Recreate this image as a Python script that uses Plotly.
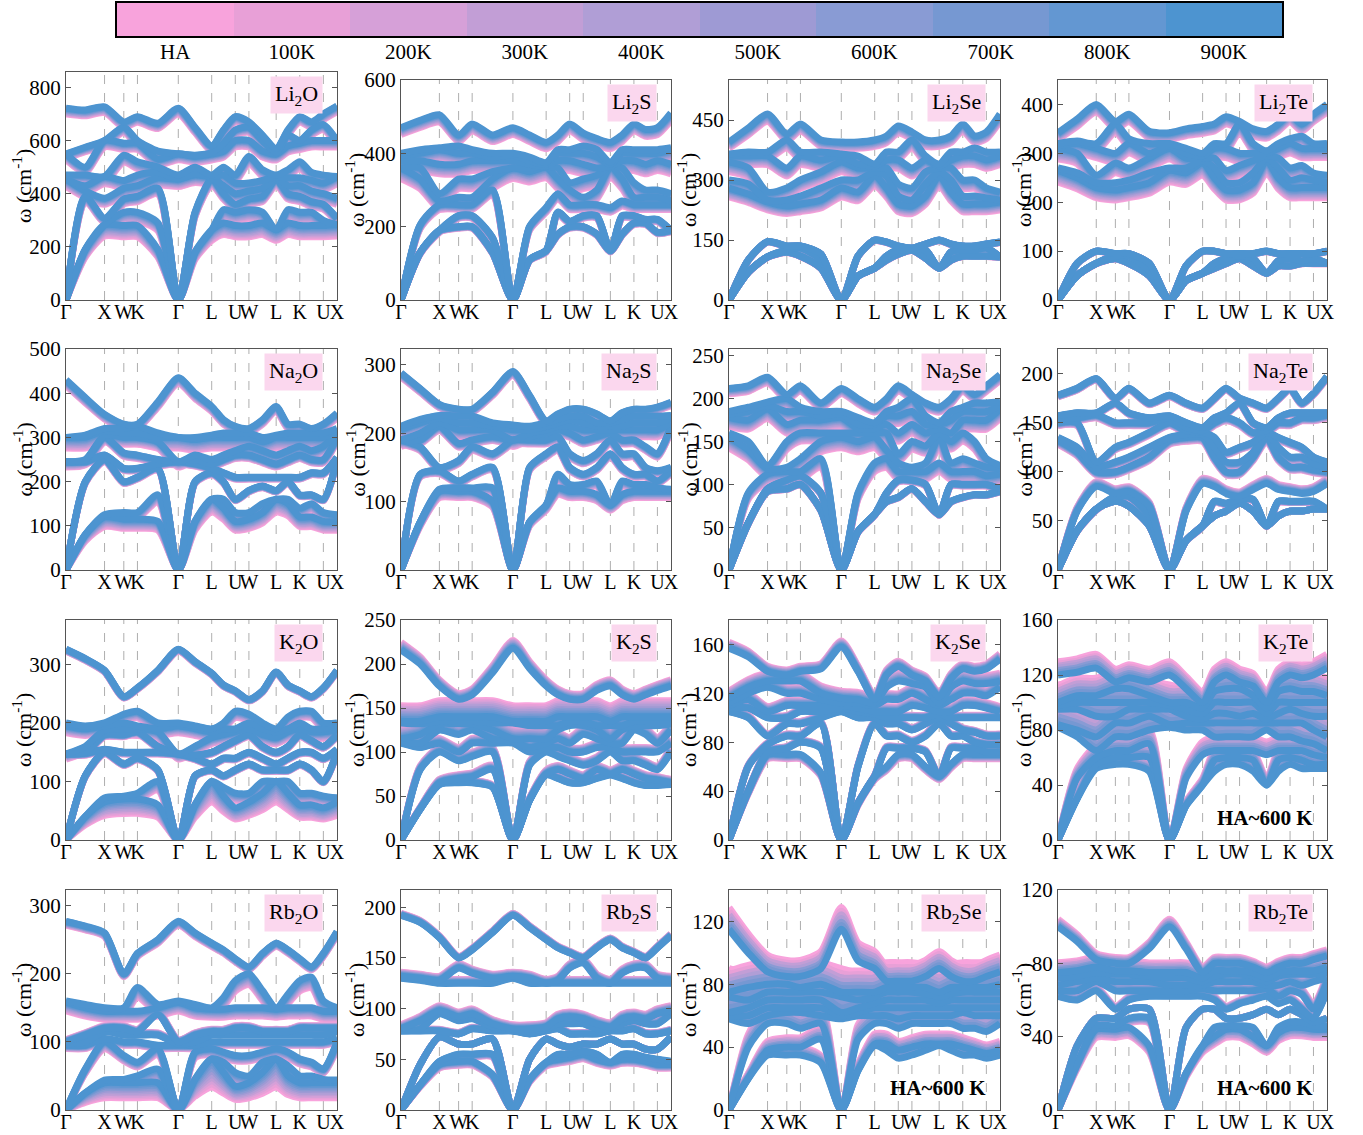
import plotly.graph_objects as go

W, H = 1363, 1135
FONT = "Liberation Serif"

# ---- temperature legend -------------------------------------------------
TEMPERATURE_LABELS = ["HA", "100K", "200K", "300K", "400K", "500K", "600K", "700K", "800K", "900K"]
TEMPERATURE_COLORS = ["#F8A3DC", "#E8A0D7", "#D6A0D8", "#C29ED6", "#B09ED6",
                      "#9E9AD4", "#899BD4", "#7698D2", "#6397D2", "#4D94D0"]
# fraction of the harmonic (HA) offset still present at each temperature
SHIFT_FRACTION_900 = [1.0, 0.89, 0.78, 0.67, 0.56, 0.44, 0.33, 0.22, 0.11, 0.0]
SHIFT_FRACTION_600 = [1.0, 0.83, 0.67, 0.5, 0.33, 0.17, 0.0]
COLOR_INDEX_600 = [0, 1, 3, 4, 6, 7, 9]

# ---- k-path Γ-X-W-K-Γ-L-U-W-L-K-U-X -------------------------------------
KPOINT_LABELS = ["Γ", "X", "W", "K", "Γ", "L", "U", "W", "L", "K", "U", "X"]
SEGMENT_LENGTHS = [1.0, 0.5, 0.3536, 1.0607, 0.8660, 0.6124, 0.3536, 0.7071, 0.6124, 0.6124, 0.3536]
SEGMENT_MIDPOINT = [True, False, False, True, True, True, False, True, True, True, False]

# ---- frequencies (cm^-1) at sampled k-points, 9 branches per row ---------
# rows: Γ, ΓX, X, W, K, KΓ, Γ, ΓL, L, LU, U, W, WL, L, LK, K, KU, U, X
LI2O_FREQ = [
    [0, 0, 0, 455, 455, 470, 550, 550, 722], [190, 190, 390, 410, 430, 470, 500, 575, 715],
    [283, 283, 308, 383, 465, 465, 600, 600, 727], [280, 330, 380, 420, 450, 545, 590, 650, 670],
    [280, 330, 390, 430, 470, 520, 590, 600, 690], [190, 290, 420, 460, 480, 500, 530, 560, 665],
    [0, 0, 0, 455, 455, 470, 550, 550, 722], [180, 180, 330, 470, 475, 500, 540, 545, 650],
    [264, 264, 455, 460, 465, 470, 549, 555, 580], [290, 340, 400, 430, 470, 500, 560, 590, 640],
    [280, 330, 360, 400, 440, 470, 600, 640, 690], [280, 340, 380, 410, 440, 540, 600, 650, 670],
    [290, 330, 390, 420, 450, 490, 560, 600, 620], [264, 264, 455, 460, 465, 470, 549, 555, 570],
    [290, 340, 400, 430, 460, 490, 580, 620, 640], [280, 330, 390, 430, 460, 520, 590, 600, 690],
    [280, 330, 370, 410, 450, 480, 600, 640, 670], [280, 300, 360, 400, 440, 470, 600, 660, 700],
    [283, 283, 308, 383, 465, 465, 600, 600, 730]]
LI2O_HA_RATIO = [-0.15, -0.1, -0.05, -0.06, -0.06, -0.05, -0.04, -0.03, -0.03]

LI2S_FREQ = [
    [0, 0, 0, 360, 360, 380, 395, 400, 470], [130, 130, 205, 330, 360, 380, 400, 410, 490],
    [190, 190, 260, 270, 290, 370, 410, 415, 505], [200, 230, 260, 280, 330, 370, 400, 420, 450],
    [200, 230, 260, 280, 330, 380, 400, 410, 480], [130, 170, 300, 330, 350, 380, 390, 400, 450],
    [0, 0, 0, 360, 360, 380, 395, 400, 470], [110, 110, 200, 350, 360, 370, 380, 390, 450],
    [135, 135, 252, 362, 365, 365, 370, 375, 430], [180, 240, 290, 330, 360, 380, 400, 410, 450],
    [200, 215, 260, 300, 320, 380, 400, 410, 480], [200, 230, 260, 280, 330, 370, 400, 420, 455],
    [180, 230, 260, 300, 340, 360, 390, 410, 440], [135, 135, 252, 362, 365, 365, 370, 375, 430],
    [180, 230, 270, 330, 360, 380, 400, 410, 450], [210, 230, 260, 280, 320, 380, 400, 410, 480],
    [210, 220, 260, 280, 300, 370, 400, 410, 465], [185, 220, 260, 280, 300, 380, 400, 410, 470],
    [190, 190, 260, 270, 290, 370, 410, 415, 510]]
LI2S_HA_RATIO = [-0.02, -0.03, -0.05, -0.08, -0.08, -0.07, -0.06, -0.05, -0.04]

LI2SE_FREQ = [
    [0, 0, 0, 280, 300, 345, 360, 365, 395], [70, 70, 100, 265, 290, 330, 360, 370, 430],
    [108, 108, 146, 245, 250, 270, 360, 370, 465], [120, 125, 135, 235, 250, 280, 330, 400, 415],
    [110, 130, 135, 240, 260, 300, 360, 370, 440], [80, 100, 115, 250, 280, 320, 350, 370, 400],
    [0, 0, 0, 280, 300, 345, 360, 365, 395], [60, 60, 110, 270, 300, 330, 340, 360, 395],
    [80, 80, 150, 310, 320, 330, 335, 340, 400], [100, 110, 145, 280, 310, 330, 350, 370, 410],
    [115, 125, 135, 240, 260, 290, 350, 370, 435], [125, 125, 130, 235, 250, 280, 330, 400, 420],
    [105, 125, 140, 260, 290, 320, 350, 360, 400], [80, 80, 150, 310, 320, 330, 335, 340, 400],
    [100, 120, 140, 270, 300, 330, 350, 370, 410], [110, 125, 135, 240, 260, 300, 360, 370, 440],
    [110, 125, 135, 240, 260, 300, 360, 380, 410], [110, 130, 140, 240, 255, 280, 350, 370, 420],
    [108, 108, 145, 245, 250, 270, 360, 370, 465]]
LI2SE_HA_RATIO = [-0.01, -0.01, -0.01, -0.08, -0.08, -0.07, -0.06, -0.05, -0.04]

LI2TE_FREQ = [
    [0, 0, 0, 265, 270, 310, 315, 320, 342], [50, 50, 75, 250, 260, 300, 320, 325, 370],
    [75, 75, 100, 230, 240, 255, 310, 320, 400], [85, 90, 95, 225, 240, 280, 300, 360, 365],
    [75, 90, 95, 230, 245, 270, 320, 330, 380], [50, 60, 75, 240, 260, 290, 300, 320, 345],
    [0, 0, 0, 265, 270, 310, 315, 320, 342], [40, 40, 70, 260, 270, 290, 300, 310, 350],
    [55, 55, 100, 280, 285, 290, 295, 300, 355], [65, 75, 100, 250, 270, 290, 310, 320, 360],
    [75, 85, 95, 225, 240, 265, 310, 320, 375], [85, 90, 95, 225, 240, 275, 300, 360, 365],
    [70, 85, 95, 240, 260, 285, 300, 320, 350], [55, 55, 100, 285, 290, 295, 300, 305, 345],
    [70, 80, 95, 250, 270, 290, 310, 320, 360], [70, 85, 95, 230, 245, 270, 320, 330, 380],
    [75, 80, 95, 230, 250, 275, 310, 335, 360], [75, 85, 95, 230, 245, 260, 310, 320, 380],
    [75, 75, 100, 230, 240, 255, 310, 320, 400]]
LI2TE_HA_RATIO = [-0.01, -0.01, -0.01, -0.09, -0.08, -0.07, -0.06, -0.05, -0.04]

NA2O_FREQ = [
    [0, 0, 0, 245, 245, 245, 300, 300, 430], [80, 80, 200, 245, 248, 250, 300, 305, 390],
    [120, 125, 250, 260, 300, 305, 315, 320, 352], [115, 130, 200, 230, 265, 300, 310, 320, 330],
    [115, 130, 210, 230, 260, 300, 310, 325, 330], [110, 170, 230, 240, 250, 290, 300, 310, 380],
    [0, 0, 0, 245, 245, 245, 300, 300, 435], [110, 110, 200, 240, 250, 260, 295, 300, 400],
    [160, 160, 220, 230, 240, 250, 300, 305, 370], [140, 160, 200, 220, 250, 260, 300, 310, 340],
    [110, 130, 160, 210, 260, 270, 300, 310, 325], [115, 130, 180, 210, 260, 280, 300, 310, 320],
    [130, 150, 190, 210, 250, 270, 290, 300, 340], [160, 160, 180, 210, 240, 260, 300, 305, 370],
    [150, 160, 200, 210, 250, 270, 300, 310, 330], [120, 140, 170, 210, 260, 280, 300, 310, 330],
    [120, 150, 170, 220, 250, 270, 300, 310, 320], [110, 130, 160, 220, 250, 280, 300, 310, 330],
    [110, 125, 250, 255, 300, 310, 315, 320, 355]]
NA2O_HA_RATIO = [-0.18, -0.1, -0.02, -0.02, -0.03, -0.05, -0.08, -0.07, -0.03]

NA2S_FREQ = [
    [0, 0, 0, 190, 190, 190, 205, 210, 288], [70, 70, 140, 180, 190, 200, 215, 220, 265],
    [115, 118, 145, 150, 210, 215, 222, 226, 242], [115, 120, 130, 160, 185, 205, 215, 225, 235],
    [115, 120, 140, 180, 190, 205, 215, 225, 235], [100, 120, 150, 170, 195, 205, 210, 215, 260],
    [0, 0, 0, 190, 190, 190, 205, 212, 290], [70, 70, 150, 190, 195, 200, 205, 210, 255],
    [95, 95, 170, 190, 200, 205, 210, 215, 218], [120, 140, 180, 195, 205, 210, 215, 220, 228],
    [115, 125, 150, 170, 200, 210, 220, 225, 235], [115, 125, 140, 160, 190, 205, 215, 225, 235],
    [110, 130, 150, 170, 195, 205, 210, 215, 228], [95, 95, 170, 190, 200, 205, 210, 215, 218],
    [110, 130, 150, 170, 190, 205, 210, 220, 230], [115, 125, 140, 170, 190, 205, 215, 225, 235],
    [115, 125, 140, 150, 180, 205, 215, 225, 235], [115, 120, 130, 145, 170, 205, 215, 225, 238],
    [115, 118, 145, 150, 210, 215, 222, 226, 245]]
NA2S_HA_RATIO = [-0.08, -0.06, -0.03, -0.03, -0.03, -0.05, -0.05, -0.04, -0.02]

NA2SE_FREQ = [
    [0, 0, 0, 155, 160, 178, 182, 185, 212], [55, 55, 90, 140, 150, 175, 185, 190, 215],
    [92, 95, 112, 118, 122, 188, 192, 196, 225], [95, 105, 115, 120, 150, 170, 185, 200, 205],
    [100, 110, 115, 130, 160, 175, 185, 190, 215], [70, 90, 130, 150, 160, 175, 180, 185, 195],
    [0, 0, 0, 155, 160, 178, 182, 185, 212], [45, 45, 90, 150, 160, 165, 170, 178, 200],
    [65, 65, 125, 155, 160, 165, 170, 172, 190], [80, 90, 130, 140, 160, 170, 180, 185, 200],
    [85, 105, 115, 125, 135, 160, 180, 190, 215], [95, 105, 115, 120, 150, 170, 185, 200, 205],
    [80, 100, 115, 125, 145, 160, 170, 180, 195], [65, 65, 125, 155, 160, 165, 170, 172, 190],
    [80, 100, 115, 125, 150, 160, 175, 185, 200], [85, 100, 115, 130, 160, 175, 185, 190, 215],
    [88, 100, 115, 125, 150, 175, 185, 195, 205], [88, 100, 110, 120, 130, 175, 185, 195, 215],
    [92, 95, 112, 118, 122, 188, 192, 196, 228]]
NA2SE_HA_RATIO = [-0.01, -0.02, -0.08, -0.08, -0.06, -0.06, -0.05, -0.05, -0.03]

NA2TE_FREQ = [
    [0, 0, 0, 132, 135, 150, 155, 157, 178], [40, 40, 60, 120, 125, 150, 155, 160, 185],
    [62, 62, 85, 100, 105, 110, 158, 160, 195], [70, 75, 78, 100, 110, 125, 150, 170, 175],
    [65, 75, 80, 105, 115, 130, 150, 160, 185], [45, 55, 65, 115, 125, 140, 150, 155, 170],
    [0, 0, 0, 132, 135, 150, 155, 157, 178], [30, 30, 60, 135, 138, 142, 145, 150, 170],
    [45, 45, 88, 135, 138, 140, 142, 145, 165], [55, 70, 85, 115, 125, 135, 150, 155, 175],
    [60, 68, 78, 100, 110, 120, 155, 160, 185], [68, 72, 75, 100, 110, 125, 150, 170, 175],
    [60, 72, 82, 115, 120, 130, 140, 150, 170], [45, 45, 88, 135, 138, 140, 142, 145, 165],
    [55, 70, 82, 115, 125, 135, 150, 155, 175], [60, 70, 80, 105, 115, 130, 150, 160, 185],
    [60, 70, 78, 105, 115, 125, 155, 160, 170], [62, 70, 80, 102, 108, 115, 155, 160, 180],
    [62, 62, 88, 100, 105, 110, 158, 160, 197]]
NA2TE_HA_RATIO = [0.0, -0.02, 0.06, -0.03, -0.03, -0.02, -0.02, -0.01, -0.01]

K2O_FREQ = [
    [0, 0, 0, 147, 147, 147, 195, 200, 326], [40, 40, 110, 148, 150, 160, 190, 195, 310],
    [65, 72, 150, 155, 180, 188, 195, 200, 290], [70, 75, 130, 150, 180, 190, 200, 215, 245],
    [70, 80, 140, 150, 185, 190, 195, 220, 260], [60, 100, 120, 150, 160, 185, 190, 200, 290],
    [0, 0, 0, 147, 147, 147, 195, 200, 326], [60, 60, 110, 140, 145, 160, 190, 195, 305],
    [100, 100, 120, 130, 150, 175, 185, 190, 285], [75, 90, 110, 140, 160, 180, 190, 200, 265],
    [55, 80, 120, 140, 170, 185, 190, 220, 255], [65, 80, 130, 150, 180, 190, 200, 215, 240],
    [80, 100, 120, 140, 160, 180, 190, 200, 255], [100, 100, 120, 130, 150, 175, 185, 190, 287],
    [80, 100, 120, 140, 160, 185, 190, 210, 265], [60, 80, 130, 150, 180, 190, 200, 220, 255],
    [60, 80, 120, 150, 170, 185, 190, 220, 245], [55, 75, 100, 140, 160, 185, 190, 200, 260],
    [65, 72, 150, 155, 180, 188, 195, 200, 290]]
K2O_HA_RATIO = [-0.35, -0.15, -0.02, -0.02, -0.02, -0.06, -0.06, -0.05, -0.01]

K2S_FREQ = [
    [0, 0, 0, 110, 112, 115, 133, 135, 216], [35, 35, 80, 105, 110, 120, 132, 135, 200],
    [63, 65, 100, 110, 125, 132, 135, 140, 175], [65, 70, 90, 100, 120, 132, 135, 140, 160],
    [65, 72, 95, 110, 125, 132, 135, 140, 165], [60, 80, 100, 110, 115, 125, 133, 140, 190],
    [0, 0, 0, 110, 112, 115, 133, 135, 218], [45, 45, 85, 100, 105, 115, 130, 135, 195],
    [74, 75, 100, 105, 110, 115, 130, 135, 175], [70, 80, 95, 105, 115, 125, 130, 140, 165],
    [65, 75, 90, 100, 110, 130, 135, 140, 160], [65, 70, 85, 100, 120, 130, 135, 140, 160],
    [70, 80, 90, 105, 115, 125, 130, 140, 170], [74, 75, 100, 105, 110, 115, 130, 135, 175],
    [70, 80, 90, 100, 110, 125, 130, 140, 165], [65, 75, 90, 100, 125, 130, 135, 140, 160],
    [62, 70, 85, 100, 120, 130, 135, 140, 165], [62, 68, 80, 100, 110, 130, 135, 140, 170],
    [63, 65, 100, 110, 125, 132, 135, 140, 175]]
K2S_HA_RATIO = [0.04, 0.06, 0.05, 0.05, 0.06, 0.1, 0.13, 0.13, 0.04]

K2SE_FREQ = [
    [0, 0, 0, 105, 108, 110, 112, 116, 157], [40, 40, 60, 100, 108, 115, 120, 125, 150],
    [70, 72, 78, 85, 100, 105, 125, 130, 138], [70, 75, 85, 95, 100, 110, 120, 130, 135],
    [70, 80, 85, 95, 105, 110, 120, 130, 138], [55, 75, 95, 100, 105, 110, 115, 120, 140],
    [0, 0, 0, 105, 108, 110, 112, 116, 158], [30, 30, 60, 100, 105, 108, 112, 115, 138],
    [52, 52, 95, 100, 103, 105, 110, 112, 115], [60, 75, 85, 95, 100, 105, 115, 125, 135],
    [70, 75, 85, 95, 100, 105, 115, 130, 142], [70, 75, 80, 90, 100, 110, 120, 128, 135],
    [60, 72, 85, 95, 100, 108, 115, 125, 130], [52, 52, 95, 100, 103, 105, 110, 112, 117],
    [62, 75, 85, 95, 100, 105, 115, 125, 132], [70, 75, 85, 90, 100, 110, 120, 130, 140],
    [70, 75, 80, 88, 100, 110, 120, 128, 138], [70, 72, 78, 85, 100, 108, 118, 128, 140],
    [70, 72, 78, 85, 100, 105, 125, 130, 148]]
K2SE_HA_RATIO = [-0.05, 0.02, 0.02, 0.02, 0.02, 0.04, 0.04, 0.05, 0.03]

K2TE_FREQ = [
    [0, 0, 0, 82, 84, 95, 98, 100, 120], [30, 30, 45, 75, 80, 95, 100, 105, 122],
    [52, 55, 60, 65, 75, 90, 100, 105, 125], [55, 60, 65, 75, 85, 90, 100, 110, 115],
    [55, 60, 65, 75, 85, 95, 100, 110, 118], [50, 60, 70, 80, 90, 95, 100, 105, 115],
    [0, 0, 0, 82, 84, 95, 98, 100, 120], [25, 25, 45, 80, 85, 90, 95, 100, 110],
    [40, 40, 62, 80, 85, 88, 92, 96, 100], [50, 58, 65, 75, 85, 92, 100, 108, 115],
    [55, 60, 65, 75, 85, 92, 100, 110, 120], [55, 60, 65, 75, 85, 90, 100, 110, 115],
    [50, 58, 65, 75, 85, 92, 100, 105, 112], [40, 40, 62, 80, 85, 88, 92, 96, 100],
    [50, 58, 65, 75, 85, 92, 100, 108, 115], [55, 60, 65, 75, 85, 95, 100, 110, 120],
    [52, 58, 65, 72, 85, 92, 100, 108, 118], [52, 55, 62, 70, 80, 90, 100, 108, 120],
    [52, 55, 60, 65, 75, 90, 100, 105, 125]]
K2TE_HA_RATIO = [0.1, 0.12, 0.15, 0.2, 0.2, 0.18, 0.15, 0.12, 0.08]

RB2O_FREQ = [
    [0, 0, 0, 95, 97, 100, 158, 160, 277], [25, 25, 60, 95, 100, 110, 150, 155, 270],
    [40, 44, 100, 105, 115, 120, 145, 150, 260], [40, 45, 80, 100, 110, 120, 145, 150, 200],
    [40, 50, 70, 100, 110, 115, 145, 180, 230], [40, 60, 90, 95, 110, 140, 150, 155, 250],
    [0, 0, 0, 95, 97, 100, 158, 160, 277], [45, 45, 85, 95, 100, 110, 150, 155, 260],
    [75, 75, 90, 100, 110, 115, 148, 150, 245], [55, 70, 85, 100, 110, 115, 148, 165, 235],
    [35, 55, 80, 100, 110, 120, 150, 190, 222], [40, 50, 80, 100, 110, 120, 150, 200, 210],
    [55, 70, 85, 100, 110, 115, 150, 175, 230], [75, 75, 90, 100, 110, 115, 148, 150, 245],
    [50, 65, 85, 100, 110, 115, 150, 170, 235], [40, 50, 75, 100, 110, 120, 150, 190, 222],
    [40, 50, 70, 100, 110, 120, 150, 195, 210], [40, 45, 60, 100, 110, 120, 145, 160, 230],
    [40, 44, 100, 105, 115, 120, 145, 150, 262]]
RB2O_HA_RATIO = [-0.55, -0.3, -0.1, -0.05, 0.03, 0.03, -0.08, -0.08, -0.02]

RB2S_FREQ = [
    [0, 0, 0, 78, 78, 80, 130, 132, 192], [25, 25, 45, 78, 80, 88, 128, 130, 185],
    [45, 48, 72, 78, 95, 98, 125, 128, 170], [48, 55, 65, 75, 88, 92, 125, 140, 150],
    [48, 55, 65, 80, 90, 95, 125, 135, 158], [35, 55, 70, 78, 82, 85, 125, 130, 175],
    [0, 0, 0, 78, 78, 80, 130, 132, 192], [30, 30, 50, 75, 78, 80, 125, 130, 180],
    [47, 47, 70, 78, 80, 82, 125, 125, 168], [50, 55, 65, 80, 85, 90, 125, 128, 160],
    [52, 55, 62, 75, 85, 92, 125, 140, 155], [55, 58, 65, 75, 85, 90, 125, 145, 150],
    [50, 55, 65, 75, 80, 85, 125, 130, 160], [47, 47, 70, 78, 80, 82, 125, 125, 168],
    [50, 55, 65, 78, 85, 90, 125, 135, 160], [50, 55, 65, 80, 88, 92, 125, 140, 155],
    [48, 52, 60, 75, 85, 90, 125, 140, 150], [45, 50, 60, 75, 85, 95, 125, 130, 160],
    [45, 48, 72, 78, 95, 98, 125, 128, 172]]
RB2S_HA_RATIO = [-0.08, -0.05, 0.0, 0.02, 0.04, 0.05, 0.03, 0.03, 0.01]

RB2SE_FREQ = [
    [0, 0, 0, 58, 60, 62, 72, 75, 115], [20, 20, 40, 55, 60, 65, 70, 78, 100],
    [35, 38, 55, 60, 65, 70, 75, 80, 88], [35, 40, 55, 62, 65, 70, 75, 80, 85],
    [35, 40, 52, 62, 65, 70, 75, 78, 85], [30, 45, 55, 60, 65, 70, 75, 80, 90],
    [0, 0, 0, 58, 60, 62, 72, 75, 115], [25, 25, 45, 60, 62, 65, 70, 75, 95],
    [41, 42, 55, 60, 65, 68, 72, 75, 90], [38, 42, 55, 60, 65, 70, 75, 78, 82],
    [33, 38, 52, 58, 65, 70, 75, 78, 82], [35, 40, 55, 60, 65, 70, 75, 78, 82],
    [38, 42, 55, 60, 65, 70, 74, 78, 85], [41, 42, 55, 60, 65, 68, 72, 75, 90],
    [38, 42, 55, 60, 65, 70, 74, 78, 85], [35, 40, 52, 62, 65, 70, 75, 78, 82],
    [35, 38, 52, 60, 65, 70, 75, 78, 82], [33, 36, 50, 60, 65, 70, 75, 78, 85],
    [35, 38, 55, 60, 65, 70, 75, 80, 88]]
RB2SE_HA_RATIO = [0.15, 0.15, 0.2, 0.25, 0.3, 0.28, 0.25, 0.18, 0.12]

RB2TE_FREQ = [
    [0, 0, 0, 62, 65, 68, 72, 75, 100], [25, 25, 35, 60, 65, 70, 73, 76, 92],
    [44, 46, 50, 65, 70, 72, 75, 78, 82], [44, 46, 50, 55, 65, 70, 74, 76, 80],
    [45, 50, 55, 60, 65, 70, 74, 76, 80], [35, 50, 55, 62, 65, 70, 73, 75, 88],
    [0, 0, 0, 62, 65, 68, 72, 75, 100], [20, 20, 45, 62, 65, 68, 72, 75, 88],
    [35, 35, 55, 62, 66, 68, 70, 72, 75], [40, 45, 55, 60, 65, 70, 73, 76, 80],
    [44, 46, 50, 55, 65, 70, 74, 76, 80], [44, 46, 50, 58, 65, 70, 74, 76, 80],
    [40, 45, 52, 60, 65, 70, 73, 75, 78], [35, 35, 55, 62, 66, 68, 70, 72, 75],
    [42, 45, 52, 58, 62, 68, 73, 75, 78], [45, 48, 55, 60, 65, 70, 74, 76, 80],
    [45, 48, 52, 55, 63, 68, 74, 76, 80], [44, 46, 48, 50, 55, 70, 74, 76, 82],
    [44, 46, 50, 65, 70, 72, 75, 78, 84]]
RB2TE_HA_RATIO = [-0.1, -0.05, 0.0, 0.03, 0.05, 0.06, 0.07, 0.07, 0.04]

PANELS = [
    dict(name="Li<sub>2</sub>O", freq=LI2O_FREQ, ratio=LI2O_HA_RATIO, yrange=[0, 858], yticks=[0, 200, 400, 600, 800], top=72),
    dict(name="Li<sub>2</sub>S", freq=LI2S_FREQ, ratio=LI2S_HA_RATIO, yrange=[0, 600], yticks=[0, 200, 400, 600]),
    dict(name="Li<sub>2</sub>Se", freq=LI2SE_FREQ, ratio=LI2SE_HA_RATIO, yrange=[0, 550], yticks=[0, 150, 300, 450]),
    dict(name="Li<sub>2</sub>Te", freq=LI2TE_FREQ, ratio=LI2TE_HA_RATIO, yrange=[0, 450], yticks=[0, 100, 200, 300, 400]),
    dict(name="Na<sub>2</sub>O", freq=NA2O_FREQ, ratio=NA2O_HA_RATIO, yrange=[0, 500], yticks=[0, 100, 200, 300, 400, 500]),
    dict(name="Na<sub>2</sub>S", freq=NA2S_FREQ, ratio=NA2S_HA_RATIO, yrange=[0, 323], yticks=[0, 100, 200, 300]),
    dict(name="Na<sub>2</sub>Se", freq=NA2SE_FREQ, ratio=NA2SE_HA_RATIO, yrange=[0, 258], yticks=[0, 50, 100, 150, 200, 250]),
    dict(name="Na<sub>2</sub>Te", freq=NA2TE_FREQ, ratio=NA2TE_HA_RATIO, yrange=[0, 225], yticks=[0, 50, 100, 150, 200]),
    dict(name="K<sub>2</sub>O", freq=K2O_FREQ, ratio=K2O_HA_RATIO, yrange=[0, 376], yticks=[0, 100, 200, 300]),
    dict(name="K<sub>2</sub>S", freq=K2S_FREQ, ratio=K2S_HA_RATIO, yrange=[0, 250], yticks=[0, 50, 100, 150, 200, 250]),
    dict(name="K<sub>2</sub>Se", freq=K2SE_FREQ, ratio=K2SE_HA_RATIO, yrange=[0, 180], yticks=[0, 40, 80, 120, 160]),
    dict(name="K<sub>2</sub>Te", freq=K2TE_FREQ, ratio=K2TE_HA_RATIO, yrange=[0, 160], yticks=[0, 40, 80, 120, 160], upto600=True),
    dict(name="Rb<sub>2</sub>O", freq=RB2O_FREQ, ratio=RB2O_HA_RATIO, yrange=[0, 323], yticks=[0, 100, 200, 300]),
    dict(name="Rb<sub>2</sub>S", freq=RB2S_FREQ, ratio=RB2S_HA_RATIO, yrange=[0, 217], yticks=[0, 50, 100, 150, 200]),
    dict(name="Rb<sub>2</sub>Se", freq=RB2SE_FREQ, ratio=RB2SE_HA_RATIO, yrange=[0, 140], yticks=[0, 40, 80, 120], upto600=True),
    dict(name="Rb<sub>2</sub>Te", freq=RB2TE_FREQ, ratio=RB2TE_HA_RATIO, yrange=[0, 120], yticks=[0, 40, 80, 120], upto600=True),
]

# ---- page geometry (pixels) ---------------------------------------------
COL_X = [(66, 337), (401, 671), (729, 1000), (1058, 1327)]
ROW_Y = [(80, 300), (349, 570), (620, 840), (890, 1110)]
YTITLE_X = [22, 355, 687, 1022]
AXIS_COLOR = "#555555"


def fx(px):
    return px / W


def fy(py):
    return 1 - py / H


# positions along the path
tick_pos = [0.0]
sample_pos = [0.0]
cur = 0.0
for length, split in zip(SEGMENT_LENGTHS, SEGMENT_MIDPOINT):
    if split:
        sample_pos.append(cur + length / 2)
    cur += length
    tick_pos.append(cur)
    sample_pos.append(cur)
path_end = cur

fig = go.Figure()
layout = {}
shapes = []
annotations = []

for i, p in enumerate(PANELS):
    n = i + 1
    suffix = "" if n == 1 else str(n)
    xa, ya = "x" + suffix, "y" + suffix
    col, row = i % 4, i // 4
    x0, x1 = COL_X[col]
    top, bottom = ROW_Y[row]
    top = p.get("top", top)

    rows_sorted = [sorted(r) for r in p["freq"]]
    bands = list(zip(*rows_sorted))
    if p.get("upto600"):
        fracs = SHIFT_FRACTION_600
        colors = [TEMPERATURE_COLORS[k] for k in COLOR_INDEX_600]
    else:
        fracs = SHIFT_FRACTION_900
        colors = TEMPERATURE_COLORS

    for frac, color in zip(fracs, colors):
        xs, ys = [], []
        for b, band in enumerate(bands):
            r = p["ratio"][b]
            xs += sample_pos + [None]
            ys += [w * (1 + r * frac) for w in band] + [None]
        fig.add_trace(go.Scatter(
            x=xs, y=ys, mode="lines", xaxis=xa, yaxis=ya,
            line=dict(color=color, width=7, shape="spline", smoothing=0.7),
            hoverinfo="skip", showlegend=False, connectgaps=False))

    layout["xaxis" + suffix] = dict(
        domain=[fx(x0), fx(x1)], anchor=ya, range=[0, path_end],
        tickmode="array", tickvals=tick_pos, ticktext=KPOINT_LABELS, ticks="",
        tickangle=0, automargin=False, ticklabelstandoff=-6,
        showline=True, mirror=True, linecolor=AXIS_COLOR, linewidth=1,
        showgrid=False, zeroline=False,
        tickfont=dict(family=FONT, size=20, color="black"))
    layout["yaxis" + suffix] = dict(
        domain=[fy(bottom), fy(top)], anchor=xa, range=p["yrange"],
        tickmode="array", tickvals=p["yticks"], ticks="inside", ticklen=5,
        tickcolor=AXIS_COLOR, showline=True, mirror="allticks", automargin=False,
        linecolor=AXIS_COLOR, linewidth=1, showgrid=False, zeroline=False,
        tickfont=dict(family=FONT, size=21, color="black"))

    for t in tick_pos[1:-1]:
        shapes.append(dict(type="line", xref=xa, yref=ya + " domain", x0=t, x1=t, y0=0, y1=1,
                           line=dict(color="#999999", width=0.8, dash="dash"), layer="below"))

    annotations.append(dict(
        text=p["name"], xref="paper", yref="paper", x=fx(x1 - 14), y=fy(top + 4),
        xanchor="right", yanchor="top", showarrow=False, bgcolor="#FBD7EE", borderpad=4,
        font=dict(family=FONT, size=22, color="black")))
    annotations.append(dict(
        text="ω (cm<sup>-1</sup>)", xref="paper", yref="paper", x=fx(YTITLE_X[col]),
        y=fy((top + bottom) / 2), textangle=-90, showarrow=False,
        xanchor="center", yanchor="middle", font=dict(family=FONT, size=22, color="black")))
    if p.get("upto600"):
        annotations.append(dict(
            text="<b>HA~600 K</b>", xref="paper", yref="paper", x=fx(x1 - 12),
            y=fy(bottom - 22), xanchor="right", yanchor="middle", showarrow=False,
            font=dict(family=FONT, size=21, color="black")))

# ---- temperature key drawn as a one-row heatmap --------------------------
fig.add_trace(go.Heatmap(
    z=[list(range(len(TEMPERATURE_LABELS)))], x=TEMPERATURE_LABELS, y=[0],
    colorscale=[[k / (len(TEMPERATURE_COLORS) - 1), c] for k, c in enumerate(TEMPERATURE_COLORS)],
    zmin=0, zmax=len(TEMPERATURE_COLORS) - 1, showscale=False, hoverinfo="skip",
    xaxis="x17", yaxis="y17"))
layout["xaxis17"] = dict(domain=[fx(117), fx(1282)], anchor="y17", showline=True, mirror=True,
                         linecolor="black", linewidth=2, ticks="", showgrid=False, zeroline=False,
                         tickangle=0, automargin=False, ticklabelstandoff=-4,
                         tickfont=dict(family=FONT, size=21, color="black"))
layout["yaxis17"] = dict(domain=[fy(36), fy(3)], anchor="x17", showline=True, mirror=True,
                         linecolor="black", linewidth=2, showticklabels=False, ticks="",
                         showgrid=False, zeroline=False, automargin=False)

fig.update_layout(
    width=W, height=H, margin=dict(l=0, r=0, t=0, b=0, autoexpand=False),
    paper_bgcolor="white", plot_bgcolor="white", showlegend=False,
    shapes=shapes, annotations=annotations, **layout)

fig.write_html("out.html")
